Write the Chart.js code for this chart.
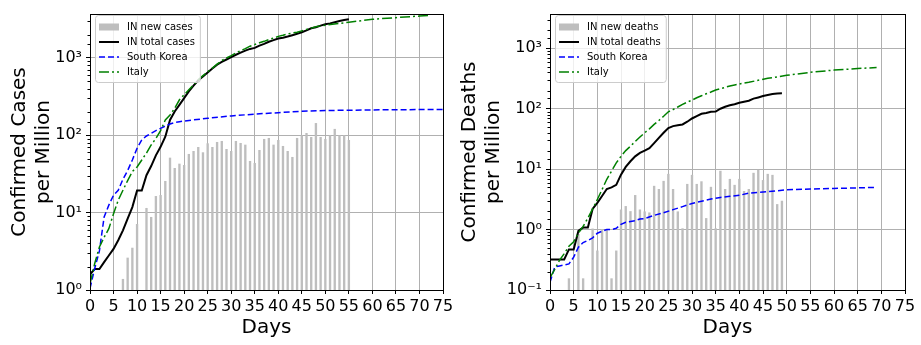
<!DOCTYPE html>
<html>
<head>
<meta charset="utf-8">
<script src="https://cdn.jsdelivr.net/npm/chart.js@4.4.0/dist/chart.umd.min.js"></script>
<style>
body { margin: 0; background: #fff; width: 921px; height: 345px; overflow: hidden; position: relative; }
.panel { position: absolute; top: 0; }
#casesBox { left: 0; }
#deathsBox { left: 450px; }
</style>
</head>
<body>
<div class="panel" id="casesBox"><canvas id="casesChart" width="460" height="345"></canvas></div>
<div class="panel" id="deathsBox"><canvas id="deathsChart" width="471" height="345"></canvas></div>
<script>
// ---- Cases per million (left panel) ----
const totalCaseDays = [0,1,2,3,4,5,6,7,8,9,10,11,12,13,14,15,16,17,18,19,20,21,22,23,24,25,26,27,28,29,30,31,32,33,34,35,36,37,38,39,40,41,42,43,44,45,46,47,48,49,50,51,52,53,54,55];
const totalCasesIN = [1.6,1.87,1.87,2.29,2.79,3.4,4.4,5.9,8.4,11.8,19.3,19.3,30.5,40,55,71,96,158,203,247,302,370,438,514,577,650,729,818,889,955,1028,1100,1170,1245,1309,1350,1445,1520,1620,1700,1780,1830,1890,1970,2050,2150,2270,2420,2500,2620,2720,2800,2900,3000,3100,3170];
const newCaseDays = [7,8,9,10,12,13,14,15,16,17,18,19,20,21,22,23,24,25,26,27,28,29,30,31,32,33,34,35,36,37,38,39,40,41,42,43,44,45,46,47,48,49,50,51,52,53,54,55];
const newCasesIN = [1.39,2.62,3.52,7.13,11.5,8.8,16.4,16.9,25.7,51.4,37.8,43,41.3,57.4,62.7,70.6,60.3,78.8,70.6,82,84.5,66.5,62.7,84.5,79.6,75.7,46.6,43.9,64.6,89.7,92.4,75.7,87,72.8,62.7,52.5,92.4,100,107,95,144,95,89.7,100,121,100,100,87];
const koreaCaseDays = [0,1,2,3,4,5,6,7,8,9,10,11,12,13,14,15,16,17,18,19,20,25,30,35,40,45,50,55,60,65,70,75];
const casesKorea = [1.05,1.9,3.2,8.8,12.5,16.8,19.5,27,35,48,68,87,98,106,115,123,132,140,146,150,153,166,178,188,196,205,209,211,213,214,215,216];
const italyCaseDays = [0,1,2,3,4,5,6,7,8,9,10,11,12,13,14,15,16,17,18,19,20,21,22,23,24,25,26,27,28,29,30,31,32,33,34,35,36,37,38,39,40,41,42,43,44,45,46,47,48,49,50,55,60,65,70,72];
const casesItaly = [1.2,2.2,3.6,4.8,6.2,9.7,14.5,19.5,26,34,39,48,59,75,91,115,158,183,224,288,334,388,450,523,590,662,740,830,923,1000,1070,1160,1245,1320,1420,1490,1570,1640,1730,1810,1900,1960,2040,2100,2150,2240,2340,2430,2530,2600,2650,2900,3160,3320,3480,3550];

// ---- Deaths per million (right panel) ----
const totalDeathDays = [0,1,2,3,4,5,6,7,8,9,10,11,12,13,14,15,16,17,18,19,20,21,22,23,24,25,26,27,28,29,30,31,32,33,34,35,36,37,38,39,40,41,42,43,44,45,46,47,48,49];
const totalDeathsIN = [0.32,0.32,0.32,0.32,0.47,0.47,0.95,1.08,1.08,2.2,2.77,3.6,4.7,5.0,5.5,8.1,10.9,13.5,16.3,18.6,20.3,22.2,27,33,40,48,51.6,53.5,55,61,69,75.5,82.5,85,89,90,100,108,114,119,126,131,136,147,154,162,169,175,179,180];
const newDeathDays = [4,6,7,9,10,11,12,13,14,15,16,17,18,19,20,21,22,23,24,25,26,27,28,29,30,31,32,33,34,35,36,37,38,39,40,41,42,43,44,45,46,47,48,49];
const newDeathsIN = [0.156,0.85,0.156,1.04,0.45,1.02,1.0,0.156,0.45,2.15,2.45,2.02,3.73,2.15,2.0,1.92,5.3,4.7,6.4,8.36,4.7,2.0,1.05,5.7,8.05,5.7,6.3,1.55,5.1,1.05,9.4,4.7,6.9,5.5,6.9,4.35,4.7,8.7,9.75,6.6,8.36,8.05,2.64,3.0];
const koreaDeathDays = [0,1,2,3,4,5,6,7,8,9,10,11,12,13,14,15,16,17,18,19,20,22,24,26,28,30,32,34,36,38,40,42,44,46,48,50,55,60,65,69];
const deathsKorea = [0.134,0.24,0.25,0.26,0.27,0.35,0.51,0.61,0.66,0.73,0.87,0.94,1.0,1.0,1.05,1.22,1.32,1.36,1.4,1.5,1.52,1.72,1.9,2.14,2.4,2.7,2.95,3.2,3.4,3.55,3.7,4.0,4.13,4.25,4.4,4.55,4.7,4.8,4.9,5.0];
const italyDeathDays = [0,1,2,3,4,5,6,7,8,9,10,11,12,13,14,15,16,17,18,19,20,21,22,23,24,25,26,27,28,29,30,31,32,33,34,35,36,37,38,39,40,42,44,46,48,50,55,60,65,69];
const deathsItaly = [0.16,0.22,0.31,0.40,0.53,0.63,0.87,1.13,1.55,2.2,3.15,4.6,6.8,9.3,12.7,16.3,20.3,24,28.7,34,40,46.5,55,64,75,89,97,107,118,129,139,152,164,177,189,204,215,226,238,247,257,274,296,319,336,358,401,436,463,480];

const FONT = '"DejaVu Sans", sans-serif';
Chart.defaults.font.family = FONT;
Chart.defaults.color = '#000';

const sup = { '-': '⁻', '0': '⁰', '1': '¹', '2': '²', '3': '³', '4': '⁴' };

function pairs(xs, ys) {
    return xs.map((x, i) => ({ x: x, y: ys[i] }));
}

function isDecade(v) {
    const e = Math.log10(v);
    return Math.abs(e - Math.round(e)) < 1e-6;
}

function decadeLabel(v) {
    if (!isDecade(v)) return '';
    return '10' + String(Math.round(Math.log10(v))).split('').map(c => sup[c]).join('');
}

// frame, minor ticks and the boxed legend in the upper left
const framePlugin = {
    id: 'frameLegend',
    afterDraw(chart) {
        const ctx = chart.ctx;
        const a = chart.chartArea;
        const y = chart.scales.y;
        ctx.save();
        ctx.strokeStyle = '#000';
        ctx.lineWidth = 1;
        y.ticks.forEach(t => {
            if (isDecade(t.value) || t.value >= y.max) return;
            const py = Math.round(y.getPixelForValue(t.value)) + 0.5;
            ctx.beginPath();
            ctx.moveTo(a.left - 2.5, py);
            ctx.lineTo(a.left, py);
            ctx.stroke();
        });
        ctx.strokeRect(a.left + 0.5, a.top + 0.5, a.right - a.left, a.bottom - a.top);

        const items = chart.data.datasets;
        ctx.font = '10px ' + FONT;
        let textW = 0;
        items.forEach(d => { textW = Math.max(textW, ctx.measureText(d.label).width); });
        const lx = a.left + 5, ly = a.top + 1;
        const w = 32 + textW + 5, h = 67;
        ctx.beginPath();
        ctx.roundRect(lx + 0.5, ly + 0.5, w, h, 3);
        ctx.fillStyle = 'rgba(255,255,255,0.8)';
        ctx.fill();
        ctx.strokeStyle = '#cccccc';
        ctx.stroke();
        items.forEach((d, i) => {
            const cy = ly + 12 + i * 15;
            if (d.type === 'line') {
                ctx.setLineDash(d.borderDash || []);
                ctx.strokeStyle = d.borderColor;
                ctx.lineWidth = d.borderWidth;
                ctx.beginPath();
                ctx.moveTo(lx + 4, cy);
                ctx.lineTo(lx + 24, cy);
                ctx.stroke();
                ctx.setLineDash([]);
            } else {
                ctx.fillStyle = d.backgroundColor;
                ctx.fillRect(lx + 4, cy - 3.5, 20, 7);
            }
            ctx.fillStyle = '#000';
            ctx.textBaseline = 'middle';
            ctx.fillText(d.label, lx + 32, cy);
        });
        ctx.restore();
    }
};

function makePanel(canvasId, opts) {
    new Chart(document.getElementById(canvasId), {
        type: 'bar',
        data: {
            datasets: [
                {
                    label: opts.barLabel,
                    data: pairs(opts.barDays, opts.barValues),
                    backgroundColor: '#bebebe',
                    barPercentage: 0.5,
                    categoryPercentage: 1,
                    order: 4
                },
                {
                    type: 'line',
                    label: opts.totalLabel,
                    data: pairs(opts.totalDays, opts.totalValues),
                    borderColor: '#000',
                    borderWidth: 2,
                    pointRadius: 0,
                    tension: 0,
                    order: 3
                },
                {
                    type: 'line',
                    label: 'South Korea',
                    data: pairs(opts.koreaDays, opts.koreaValues),
                    borderColor: '#0000ff',
                    borderWidth: 1.5,
                    borderDash: [6, 3],
                    pointRadius: 0,
                    tension: 0,
                    order: 2
                },
                {
                    type: 'line',
                    label: 'Italy',
                    data: pairs(opts.italyDays, opts.italyValues),
                    borderColor: '#008000',
                    borderWidth: 1.5,
                    borderDash: [10, 3, 2, 3],
                    pointRadius: 0,
                    tension: 0,
                    order: 1
                }
            ]
        },
        options: {
            responsive: false,
            animation: false,
            layout: { padding: { top: 14, right: opts.padRight, left: 0, bottom: 0 } },
            plugins: { legend: { display: false }, tooltip: { enabled: false } },
            scales: {
                x: {
                    type: 'linear',
                    min: 0,
                    max: 75,
                    offset: false,
                    ticks: { stepSize: 5, autoSkip: false, maxRotation: 0, font: { size: 16 }, padding: 3 },
                    grid: { offset: false, color: '#b0b0b0', lineWidth: 1, tickColor: '#000', tickLength: 4 },
                    border: { display: false },
                    title: { display: true, text: 'Days', font: { size: 20 }, padding: { top: 0, bottom: 5 } },
                    afterFit(s) { s.height = 55; }
                },
                y: {
                    type: 'logarithmic',
                    min: opts.yMin,
                    max: 3700,
                    ticks: { autoSkip: false, callback: decadeLabel, font: { size: 16 }, padding: 4 },
                    grid: {
                        color: c => isDecade(c.tick.value) ? '#b0b0b0' : 'rgba(0,0,0,0)',
                        tickColor: c => isDecade(c.tick.value) ? '#000' : 'rgba(0,0,0,0)',
                        tickLength: 4,
                        lineWidth: 1
                    },
                    border: { display: false },
                    title: { display: true, text: opts.yTitle, font: { size: 20 }, padding: { top: 8 } },
                    afterFit(s) { s.width = opts.axisWidth; }
                }
            }
        },
        plugins: [framePlugin]
    });
}

makePanel('casesChart', {
    barLabel: 'IN new cases', barDays: newCaseDays, barValues: newCasesIN,
    totalLabel: 'IN total cases', totalDays: totalCaseDays, totalValues: totalCasesIN,
    koreaDays: koreaCaseDays, koreaValues: casesKorea,
    italyDays: italyCaseDays, italyValues: casesItaly,
    yMin: 1, yTitle: ['Confirmed Cases', 'per Million'], axisWidth: 90, padRight: 17
});

makePanel('deathsChart', {
    barLabel: 'IN new deaths', barDays: newDeathDays, barValues: newDeathsIN,
    totalLabel: 'IN total deaths', totalDays: totalDeathDays, totalValues: totalDeathsIN,
    koreaDays: koreaDeathDays, koreaValues: deathsKorea,
    italyDays: italyDeathDays, italyValues: deathsItaly,
    yMin: 0.1, yTitle: ['Confirmed Deaths', 'per Million'], axisWidth: 100, padRight: 16
});
</script>
</body>
</html>
